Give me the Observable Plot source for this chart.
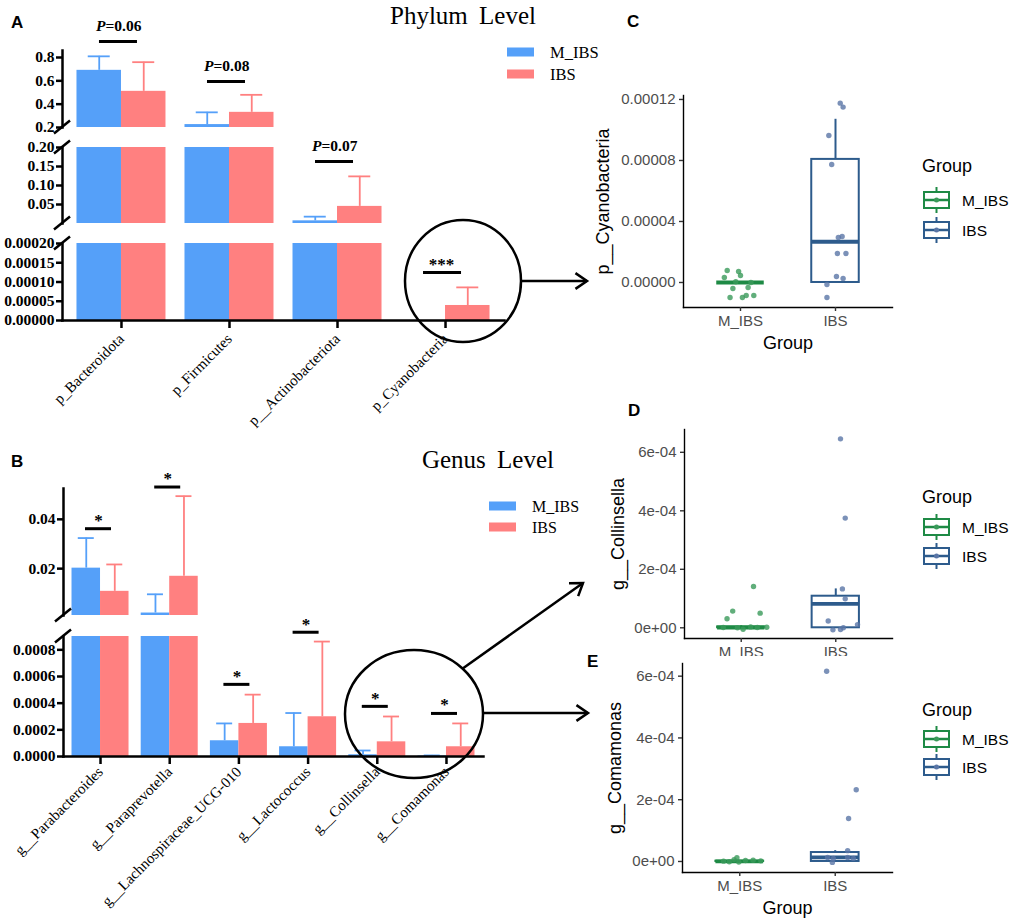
<!DOCTYPE html>
<html><head><meta charset="utf-8">
<script src="https://cdn.jsdelivr.net/npm/d3@7"></script>
<script src="https://cdn.jsdelivr.net/npm/@observablehq/plot@0.6"></script>
<style>
body{margin:0;background:#fff}
#fig{position:relative;width:1021px;height:921px;overflow:hidden;background:#fff}
</style></head><body><div id="fig"></div>
<script>
// ---------------- data ----------------
const groups = ["M_IBS", "IBS"];

// Panel A (phylum level) : mean and mean+SD
const phylumCats = ["p_Bacteroidota", "p_Firmicutes", "p__Actinobacteriota", "p_Cyanobacteria"];
const phylumMean_M  = [0.69, 0.225, 0.007, 0];
const phylumUpper_M = [0.81, 0.33, 0.018, 0];
const phylumMean_I  = [0.51, 0.33, 0.045, 0.000039];
const phylumUpper_I = [0.76, 0.48, 0.124, 0.000086];
const phylumSegDomains = [[0.2, 0.86], [0, 0.2], [0, 0.0002]];
const phylumSegTicks = [[0.2, 0.4, 0.6, 0.8], [0.05, 0.10, 0.15, 0.20], [0, 0.00005, 0.0001, 0.00015, 0.0002]];
const phylumSegFormats = [".1f", ".2f", ".5f"];
const phylumSig = [
  {cat: "p_Bacteroidota", seg: 0, line: 0.937, text: 1.066, label: "=0.06", p: true},
  {cat: "p_Firmicutes", seg: 0, line: 0.594, text: 0.723, label: "=0.08", p: true},
  {cat: "p__Actinobacteriota", seg: 1, line: 0.163, text: 0.2027, label: "=0.07", p: true},
  {cat: "p_Cyanobacteria", seg: 2, line: 0.000125, text: 0.000156, label: "***", p: false}
];

// Panel B (genus level)
const genusCats = ["g__Parabacteroides", "g__Paraprevotella", "g__Lachnospiraceae_UCG-010", "g__Lactococcus", "g__Collinsella", "g__Comamonas"];
const genusMean_M  = [0.0202, 0.002, 0.000118, 0.000073, 0.000013, 0.000004];
const genusUpper_M = [0.0324, 0.0096, 0.000248, 0.000326, 0.000045, 0.000008];
const genusMean_I  = [0.0108, 0.0169, 0.000248, 0.000298, 0.00011, 0.000073];
const genusUpper_I = [0.0217, 0.0494, 0.000464, 0.000862, 0.0003, 0.000248];
const genusSegDomains = [[0.001, 0.0525], [0, 0.0009]];
const genusSegTicks = [[0.02, 0.04], [0, 0.0002, 0.0004, 0.0006, 0.0008]];
const genusSegFormats = [".2f", ".4f"];
const genusSig = [
  {cat: "g__Parabacteroides", seg: 0, line: 0.0362, text: 0.0412, label: "*"},
  {cat: "g__Paraprevotella", seg: 0, line: 0.0531, text: 0.0583, label: "*"},
  {cat: "g__Lachnospiraceae_UCG-010", seg: 1, line: 0.000541, text: 0.000632, label: "*"},
  {cat: "g__Lactococcus", seg: 1, line: 0.000932, text: 0.00102, label: "*"},
  {cat: "g__Collinsella", seg: 1, line: 0.000376, text: 0.000466, label: "*"},
  {cat: "g__Comamonas", seg: 1, line: 0.000323, text: 0.000416, label: "*"}
];

// Panel C: p__Cyanobacteria (values and horizontal jitter)
const cyanoVal_M = [0.0000079, 0.0000072, 0.0000033, 0.0000046, -0.0000039, -0.0000033, -0.0000098, -0.0000098, -0.0000085, -0.0000085, 0.0000005, 0];
const cyanoJit_M = [-0.14, -0.02, -0.17, 0, -0.08, 0.08, -0.11, 0.02, 0.06, 0.14, -0.05, 0.11];
const cyanoVal_I = [0.0001176, 0.000115, 0.0000964, 0.0000774, 0.0000302, 0.0000295, 0.000019, 0.000019, 0.0000039, 0.0000026, -0.0000013, -0.0000098];
const cyanoJit_I = [0.05, 0.08, -0.07, -0.04, 0.07, 0.03, 0.02, 0.11, 0.01, 0.08, -0.09, -0.09];
const cyanoBox = [ // q1, median, q3, lower, upper
  {q1: 0, median: 0, q3: 0, lo: 0, hi: 0},
  {q1: 0, median: 0.0000267, q3: 0.0000807, lo: 0, hi: 0.000107}
];
const cyanoTicks = [0, 0.00004, 0.00008, 0.00012];
const cyanoTickLabels = ["0.00000", "0.00004", "0.00008", "0.00012"];

// Panel D: g__Collinsella
const collVal_M = [0.000141, 0.000057, 0.00005, 0.000031, 0.000001, 0, -0.000005, 0.000001, 0.000002, 0.000003];
const collJit_M = [0.13, -0.09, 0.2, -0.15, -0.19, -0.04, 0.02, 0.17, 0.27, 0.1];
const collVal_I = [0.000646, 0.000375, 0.000133, 0.000099, 0.000023, 0.000011, -0.000007, 0, -0.000006];
const collJit_I = [0.05, 0.1, 0.07, 0.1, -0.08, 0.23, -0.03, 0.08, 0.05];
const collBox = [
  {q1: 0, median: 0.000001, q3: 0.000003, lo: 0, hi: 0.000007},
  {q1: 0, median: 0.000082, q3: 0.000108, lo: 0, hi: 0.000133}
];
const tickE = [0, 0.0002, 0.0004, 0.0006];
const tickELabels = ["0e+00", "2e-04", "4e-04", "6e-04"];

// Panel E: g__Comamonas
const comaVal_M = [0.000006, 0.000001, 0.000003, 0.000004, 0.000002, -0.000002, -0.000001, 0.000012];
const comaJit_M = [-0.06, -0.17, 0.06, 0.14, 0.22, -0.01, -0.11, -0.03];
const comaVal_I = [0.000616, 0.000232, 0.000139, 0.000035, 0.000013, 0.00001, 0.000013, 0.00001, -0.000003];
const comaJit_I = [-0.09, 0.22, 0.14, 0.13, -0.08, -0.02, 0.13, 0.19, -0.03];
const comaBox = [
  {q1: 0, median: 0.0000005, q3: 0.000001, lo: 0, hi: 0.000003},
  {q1: 0, median: 0.000013, q3: 0.000029, lo: 0, hi: 0.000035}
];

// ---------------- styles ----------------
const barColors = ["#55a0f9", "#ff8080"];
const boxColors = ["#1e8a45", "#2d5b8c"];
const ptColors = ["#3a9a5a", "#5a76a6"];
const SERIF = "'Liberation Serif', 'Times New Roman', serif";
const SANS = "'Liberation Sans', Arial, sans-serif";
const fig = document.getElementById("fig");

function place(el, left, top) {
  el.style.position = "absolute";
  el.style.left = left + "px";
  el.style.top = top + "px";
  fig.appendChild(el);
  return el;
}

function rowsFrom(cats, mM, uM, mI, uI) {
  return cats.flatMap((c, i) => [
    {cat: c, group: "M_IBS", mean: mM[i], upper: uM[i]},
    {cat: c, group: "IBS", mean: mI[i], upper: uI[i]}
  ]);
}

// axis-break slashes drawn at the ends of a segment's y range
function breakMark(atTop, atBottom) {
  return (index, scales, values, dims) => {
    const g = d3.create("svg:g");
    const x = dims.marginLeft;
    const ys = [];
    if (atTop) ys.push(dims.marginTop);
    if (atBottom) ys.push(dims.height - dims.marginBottom);
    for (const y of ys) {
      g.append("line").attr("x1", x - 8).attr("y1", y + 6.5).attr("x2", x + 8).attr("y2", y - 6.5)
        .attr("stroke", "black").attr("stroke-width", 2.5);
    }
    return g.node();
  };
}

function barSegment(o) {
  const {cats, rows, sig, segIndex, domain, lowerTop, ticks, fmt, W, ml, mr, top, bottom, H, pi, po,
         xAxis, breakTop, breakBottom, capW, sigW, sigDx, sigText, yFont, xFont, xPad} = o;
  const [d0, d1] = domain;
  const minVal = Math.max(d0, lowerTop);
  const n = cats.length;
  const step = (W - ml - mr) / (n - pi + 2 * po);
  const bw = step * (1 - pi);
  const half = bw / 2;
  const marks = [];
  groups.forEach((g, gi) => {
    const rs = rows.filter(r => r.group === g && r.mean > minVal);
    marks.push(Plot.barY(rs, {
      x: "cat", y1: () => d0, y2: r => Math.min(r.mean, d1), fill: barColors[gi],
      insetLeft: gi ? half : 0, insetRight: gi ? 0 : half
    }));
  });
  groups.forEach((g, gi) => {
    const es = rows.filter(r => r.group === g && r.mean > minVal && r.mean <= d1 && r.upper > r.mean);
    const cx = gi ? half / 2 : -half / 2;
    marks.push(Plot.ruleX(es, {x: "cat", y1: "mean", y2: "upper", stroke: barColors[gi], strokeWidth: 1.8, dx: cx}));
    marks.push(Plot.tickY(es, {x: "cat", y: "upper", stroke: barColors[gi], strokeWidth: 1.8,
      insetLeft: half + cx - capW / 2, insetRight: half - cx - capW / 2}));
  });
  const ss = sig.filter(s => s.seg === segIndex);
  marks.push(Plot.tickY(ss, {x: "cat", y: "line", stroke: "black", strokeWidth: 3,
    insetLeft: half - sigW / 2 + sigDx, insetRight: half - sigW / 2 - sigDx}));
  marks.push(...sigText(ss));
  marks.push(Plot.frame({anchor: "left", stroke: "black", strokeWidth: 2.5}));
  marks.push(Plot.axisY({ticks, tickFormat: d3.format(fmt), tickSize: 6, tickPadding: 2, stroke: "black",
    strokeWidth: 2.5, fill: "black", fontSize: yFont, fontWeight: "bold", fontFamily: SERIF, label: null}));
  if (xAxis) {
    marks.push(Plot.frame({anchor: "bottom", stroke: "black", strokeWidth: 2.5}));
    marks.push(Plot.axisX({tickRotate: -45, tickSize: 8, tickPadding: xPad, stroke: "black", strokeWidth: 2.5,
      fill: "black", fontSize: xFont, fontFamily: SERIF, label: null}));
  }
  marks.push(breakMark(breakTop, breakBottom));
  const xScale = {type: "band", domain: cats, paddingInner: pi, paddingOuter: po, round: false};
  if (!xAxis) xScale.axis = null;
  return Plot.plot({
    width: W, height: H, marginLeft: ml, marginRight: mr, marginTop: top, marginBottom: H - bottom,
    x: xScale, y: {domain},
    style: {background: "transparent", overflow: "visible", fontFamily: SERIF},
    marks
  });
}

// ---------------- Panel A ----------------
const phylumRows = rowsFrom(phylumCats, phylumMean_M, phylumUpper_M, phylumMean_I, phylumUpper_I);
const phylumText = ss => [
  Plot.text(ss.filter(s => s.p), {x: "cat", y: "text", text: () => "P", fontStyle: "italic", fontWeight: "bold",
    fontSize: 15.5, fontFamily: SERIF, textAnchor: "end", dx: -16, fill: "black"}),
  Plot.text(ss.filter(s => s.p), {x: "cat", y: "text", text: "label", fontWeight: "bold",
    fontSize: 15.5, fontFamily: SERIF, textAnchor: "start", dx: -16, fill: "black"}),
  Plot.text(ss.filter(s => !s.p), {x: "cat", y: "text", text: "label", fontWeight: "bold",
    fontSize: 17, fontFamily: SERIF, dx: -4, dy: 4, fill: "black"})
];
const segPxA = [[50, 127], [147, 223], [243, 320]];
phylumSegDomains.forEach((dom, i) => {
  const last = i === phylumSegDomains.length - 1;
  const el = barSegment({
    cats: phylumCats, rows: phylumRows, sig: phylumSig, segIndex: i, domain: dom,
    lowerTop: last ? dom[0] : phylumSegDomains[i + 1][1],
    ticks: phylumSegTicks[i], fmt: phylumSegFormats[i],
    W: 520, ml: 62, mr: 16, top: segPxA[i][0], bottom: segPxA[i][1], H: last ? 430 : segPxA[i][1],
    pi: 0.176, po: 0.134, xAxis: last, breakTop: i > 0, breakBottom: !last,
    capW: 22, sigW: 38, sigDx: -3, sigText: phylumText, yFont: 15.5, xFont: 15, xPad: 8
  });
  place(el, 0, 0);
});

// ---------------- Panel B ----------------
const genusRows = rowsFrom(genusCats, genusMean_M, genusUpper_M, genusMean_I, genusUpper_I);
const genusText = ss => [
  Plot.text(ss, {x: "cat", y: "text", text: "label", fontWeight: "bold", fontSize: 17, fontFamily: SERIF,
    dx: -2, dy: 4, fill: "black"})
];
const segPxB = [[488, 615], [636, 756]];
genusSegDomains.forEach((dom, i) => {
  const last = i === genusSegDomains.length - 1;
  const el = barSegment({
    cats: genusCats, rows: genusRows, sig: genusSig, segIndex: i, domain: dom,
    lowerTop: last ? dom[0] : genusSegDomains[i + 1][1],
    ticks: genusSegTicks[i], fmt: genusSegFormats[i],
    W: 500, ml: 63, mr: 17, top: segPxB[i][0], bottom: segPxB[i][1], H: last ? 921 : segPxB[i][1],
    pi: 0.176, po: 0.123, xAxis: last, breakTop: i > 0, breakBottom: !last,
    capW: 16, sigW: 26, sigDx: -2, sigText: genusText, yFont: 15.5, xFont: 15, xPad: 5
  });
  place(el, 0, 0);
});

// ---------------- Box panels C, D, E ----------------
function boxPanel(o) {
  const {W, H, ml, mr, mt, mb, yDomain, yTicks, yLabels, yTitle, yTitleDx, xTitle, vals, jits, stats, bg} = o;
  const lab = new Map(yTicks.map((t, i) => [t, yLabels[i]]));
  const marks = [];
  stats.forEach((s, gi) => {
    const col = boxColors[gi];
    const cx = gi + 1;
    marks.push(Plot.ruleX([s], {x: () => cx, y1: "q3", y2: "hi", stroke: col, strokeWidth: 2}));
    marks.push(Plot.ruleX([s], {x: () => cx, y1: "lo", y2: "q1", stroke: col, strokeWidth: 2}));
    marks.push(Plot.rect([s], {x1: () => cx - 0.25, x2: () => cx + 0.25, y1: "q1", y2: "q3",
      fill: "white", stroke: col, strokeWidth: 2}));
    marks.push(Plot.ruleY([s], {x1: () => cx - 0.25, x2: () => cx + 0.25, y: "median", stroke: col, strokeWidth: 3.8}));
  });
  groups.forEach((g, gi) => {
    const pts = vals[gi].map((v, i) => ({v, j: jits[gi][i]}));
    marks.push(Plot.dot(pts, {x: d => gi + 1 + d.j, y: "v", r: 2.7, fill: ptColors[gi], fillOpacity: 0.8, stroke: "none"}));
  });
  marks.push(Plot.frame({anchor: "left", stroke: "black", strokeWidth: 1.4}));
  marks.push(Plot.frame({anchor: "bottom", stroke: "black", strokeWidth: 1.4}));
  marks.push(Plot.axisY({ticks: yTicks, tickFormat: d => lab.get(d), tickSize: 4, tickPadding: 4, stroke: "#333",
    strokeWidth: 1.4, fill: "#4d4d4d", fontSize: 15, fontFamily: SANS, label: null}));
  marks.push(Plot.axisX({ticks: [1, 2], tickFormat: d => groups[d - 1], tickSize: 4, tickPadding: 4, stroke: "#333",
    strokeWidth: 1.4, fill: "#4d4d4d", fontSize: 15, fontFamily: SANS, label: null}));
  marks.push(Plot.text([yTitle], {frameAnchor: "left", rotate: -90, dx: -yTitleDx, text: d => d,
    textAnchor: "middle", lineAnchor: "middle", fontSize: 18, fontFamily: SANS, fill: "black"}));
  if (xTitle) marks.push(Plot.text([xTitle], {frameAnchor: "bottom", dy: 36, text: d => d,
    textAnchor: "middle", lineAnchor: "middle", fontSize: 18, fontFamily: SANS, fill: "black"}));
  return Plot.plot({
    width: W, height: H, marginLeft: ml, marginRight: mr, marginTop: mt, marginBottom: mb,
    x: {type: "linear", domain: [0.4, 2.6]}, y: {domain: yDomain},
    style: {background: bg ? "white" : "transparent", overflow: "visible", fontFamily: SANS},
    marks
  });
}

place(boxPanel({W: 441, H: 290, ml: 103, mr: 129, mt: 35, mb: 43,
  yDomain: [-0.0000164, 0.0001226], yTicks: cyanoTicks, yLabels: cyanoTickLabels,
  yTitle: "p__Cyanobacteria", yTitleDx: 80, xTitle: "Group",
  vals: [cyanoVal_M, cyanoVal_I], jits: [cyanoJit_M, cyanoJit_I], stats: cyanoBox, bg: false}), 580, 60);

place(boxPanel({W: 441, H: 256, ml: 104, mr: 129, mt: 29, mb: 18,
  yDomain: [-0.0000366, 0.000678], yTicks: tickE, yLabels: tickELabels,
  yTitle: "g__Collinsella", yTitleDx: 66, xTitle: null,
  vals: [collVal_M, collVal_I], jits: [collJit_M, collJit_I], stats: collBox, bg: false}), 580, 400);

place(boxPanel({W: 441, H: 265, ml: 102, mr: 129, mt: 7, mb: 49,
  yDomain: [-0.0000357, 0.000641], yTicks: tickE, yLabels: tickELabels,
  yTitle: "g__Comamonas", yTitleDx: 67, xTitle: "Group",
  vals: [comaVal_M, comaVal_I], jits: [comaJit_M, comaJit_I], stats: comaBox, bg: true}), 580, 656);

// ---------------- overlay: titles, letters, legends, callouts ----------------
const ov = d3.select(fig).append("svg").attr("width", 1021).attr("height", 921)
  .style("position", "absolute").style("left", "0px").style("top", "0px").style("pointer-events", "none");

function txt(x, y, s, size, family, extra = {}) {
  const t = ov.append("text").attr("x", x).attr("y", y).text(s)
    .attr("font-size", size).attr("font-family", family).attr("fill", extra.fill || "black");
  if (extra.weight) t.attr("font-weight", extra.weight);
  if (extra.anchor) t.attr("text-anchor", extra.anchor);
  if (extra.ws) t.attr("word-spacing", extra.ws);
  return t;
}
// panel letters
[["A", 11, 28], ["B", 11, 467], ["C", 627, 27], ["D", 628, 416], ["E", 587, 667]]
  .forEach(([s, x, y]) => txt(x, y, s, 17, SANS, {weight: "bold"}));
// titles
txt(463, 24, "Phylum Level", 25, SERIF, {anchor: "middle", ws: 5});
txt(488, 468, "Genus Level", 25, SERIF, {anchor: "middle", ws: 5});

// bar legends
function barLegend(x, y0, dy, fs) {
  groups.forEach((g, i) => {
    ov.append("rect").attr("x", x).attr("y", y0 + i * dy - 4.5).attr("width", 27).attr("height", 9).attr("fill", barColors[i]);
    txt(x + 43, y0 + i * dy + 6, g, fs, SERIF);
  });
}
barLegend(507, 52, 22, 16.5);
barLegend(489, 506, 21, 16);

// box legends
function boxLegend(yTitle, yKeys) {
  txt(922, yTitle + 6, "Group", 18, SANS);
  groups.forEach((g, i) => {
    const y = yKeys[i], col = boxColors[i], x0 = 924, x1 = 949, xc = (x0 + x1) / 2;
    ov.append("line").attr("x1", xc).attr("x2", xc).attr("y1", y - 13).attr("y2", y + 13).attr("stroke", col).attr("stroke-width", 2);
    ov.append("rect").attr("x", x0).attr("y", y - 8).attr("width", x1 - x0).attr("height", 16)
      .attr("fill", "white").attr("stroke", col).attr("stroke-width", 2);
    ov.append("line").attr("x1", x0).attr("x2", x1).attr("y1", y).attr("y2", y).attr("stroke", col).attr("stroke-width", 2.5);
    ov.append("circle").attr("cx", xc).attr("cy", y).attr("r", 2.5).attr("fill", ptColors[i]);
    txt(962, y + 5.5, g, 15.5, SANS);
  });
}
boxLegend(166, [200, 230]);
boxLegend(497, [527, 556]);
boxLegend(710, [739, 767]);

// callout circles and arrows
function arrow(x1, y1, x2, y2) {
  ov.append("line").attr("x1", x1).attr("y1", y1).attr("x2", x2).attr("y2", y2).attr("stroke", "black").attr("stroke-width", 2.5);
  const a = Math.atan2(y2 - y1, x2 - x1), L = 14, w = 0.6;
  const p = [[x2 - L * Math.cos(a - w), y2 - L * Math.sin(a - w)], [x2, y2], [x2 - L * Math.cos(a + w), y2 - L * Math.sin(a + w)]];
  ov.append("polyline").attr("points", p.map(q => q.join(",")).join(" ")).attr("fill", "none")
    .attr("stroke", "black").attr("stroke-width", 2.5).attr("stroke-linejoin", "miter");
}
ov.append("ellipse").attr("cx", 463).attr("cy", 281).attr("rx", 58).attr("ry", 61)
  .attr("fill", "none").attr("stroke", "black").attr("stroke-width", 2.5);
arrow(521, 281, 587, 281);
ov.append("ellipse").attr("cx", 414).attr("cy", 714).attr("rx", 69).attr("ry", 64)
  .attr("fill", "none").attr("stroke", "black").attr("stroke-width", 2.5);
arrow(462, 669, 583, 583);
arrow(483, 713, 588, 713);
</script></body></html>
